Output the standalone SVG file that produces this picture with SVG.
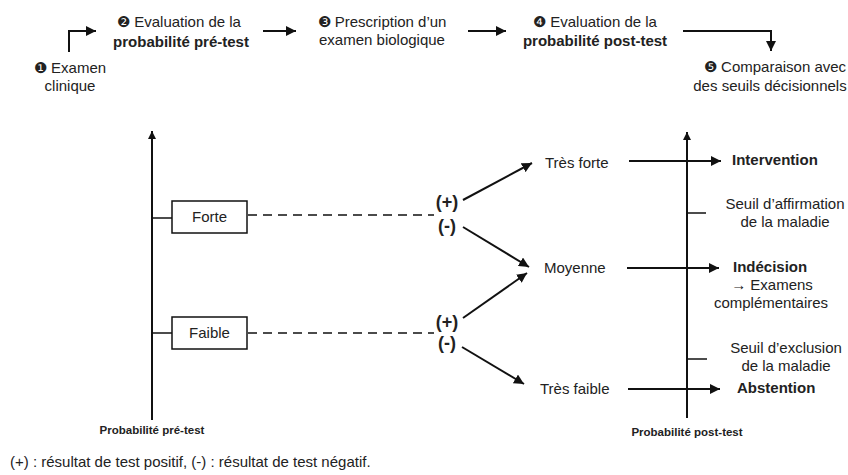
<svg xmlns="http://www.w3.org/2000/svg" width="848" height="475" viewBox="0 0 848 475">
<defs>
<marker id="ah" viewBox="0 0 10 10" refX="10" refY="5" markerWidth="10" markerHeight="10" markerUnits="userSpaceOnUse" orient="auto">
<path d="M0,0 L10,5 L0,10 z" fill="#111"/>
</marker>
<marker id="ahs" viewBox="0 0 10 10" refX="10" refY="5" markerWidth="8" markerHeight="8" markerUnits="userSpaceOnUse" orient="auto">
<path d="M0,0 L10,5 L0,10 z" fill="#111"/>
</marker>
</defs>
<style>
text{font-family:"Liberation Sans",Arial,sans-serif;fill:#222;font-size:15px}
.b{font-weight:bold}
.m{text-anchor:middle}
.s{font-size:11.5px;font-weight:bold}
.pm{font-size:18px;font-weight:bold;text-anchor:middle}
.ln{stroke:#111;stroke-width:2;fill:none}
.th{stroke:#111;stroke-width:1.5;fill:none}
.dash{stroke:#111;stroke-width:1.5;stroke-dasharray:9,6;fill:none}
.box{fill:#fff;stroke:#111;stroke-width:1.5}
</style>
<rect width="848" height="475" fill="#fff"/>

<g id="connectors">
<path class="ln" d="M69,52 V31 H96" marker-end="url(#ah)"/>
<path class="ln" d="M263,31 H296" marker-end="url(#ah)"/>
<path class="ln" d="M468,31 H506" marker-end="url(#ah)"/>
<path class="ln" d="M683,31 H771 V51" marker-end="url(#ah)"/>

<path class="ln" d="M152,420 V131" marker-end="url(#ahs)"/>
<path class="ln" d="M687,418 V132" marker-end="url(#ahs)"/>
<path class="th" d="M152,218 H172"/>
<path class="th" d="M152,333 H172"/>
<path class="dash" d="M248,215 H434"/>
<path class="dash" d="M248,333 H434"/>

<path class="ln" d="M463,200 L532,163" marker-end="url(#ah)"/>
<path class="ln" d="M463,227 L529,267" marker-end="url(#ah)"/>
<path class="ln" d="M463,318 L527,273" marker-end="url(#ah)"/>
<path class="ln" d="M462,347 L524,384" marker-end="url(#ah)"/>

<path class="ln" d="M629,161 H721" marker-end="url(#ah)"/>
<path class="ln" d="M627,268 H719" marker-end="url(#ah)"/>
<path class="ln" d="M628,389 H720" marker-end="url(#ah)"/>
<path class="th" d="M687,213 H706"/>
<path class="th" d="M687,359 H707"/>
</g>

<g id="step1"><text class="m" x="70" y="73">❶ Examen</text><text class="m" x="70" y="91">clinique</text></g>
<g id="step2"><text class="m" x="179" y="27">❷ Evaluation de la</text><text class="m b" x="181" y="47">probabilité pré-test</text></g>
<g id="step3"><text class="m" x="382" y="27">❸ Prescription d’un</text><text class="m" x="382" y="45">examen biologique</text></g>
<g id="step4"><text class="m" x="595" y="27">❹ Evaluation de la</text><text class="m b" x="595" y="46">probabilité post-test</text></g>
<g id="step5"><text class="m" x="775" y="72">❺ Comparaison avec</text><text class="m" x="770" y="91">des seuils décisionnels</text></g>

<g id="axis-pre"><text class="s m" x="152" y="434">Probabilité pré-test</text></g>
<g id="axis-post"><text class="s m" x="687" y="436">Probabilité post-test</text></g>

<g id="forte"><rect class="box" x="172" y="201" width="75" height="32"/><text class="m" x="209.5" y="222">Forte</text></g>
<g id="faible"><rect class="box" x="172" y="317" width="75" height="32"/><text class="m" x="209.5" y="338">Faible</text></g>

<g id="signs1"><text class="pm" x="447" y="208">(+)</text><text class="pm" x="447" y="232">(-)</text></g>
<g id="signs2"><text class="pm" x="447" y="328">(+)</text><text class="pm" x="447" y="349">(-)</text></g>

<g id="tres-forte"><text x="545" y="168">Très forte</text></g>
<g id="moyenne"><text x="544" y="273">Moyenne</text></g>
<g id="tres-faible"><text x="540" y="394">Très faible</text></g>

<g id="intervention"><text class="b" x="732" y="165">Intervention</text></g>
<g id="seuil-aff"><text class="m" x="785" y="209">Seuil d’affirmation</text><text class="m" x="785" y="227">de la maladie</text></g>
<g id="indecision"><text class="b" x="733" y="272">Indécision</text><text class="m" x="772" y="290">→ Examens</text><text class="m" x="771" y="308">complémentaires</text></g>
<g id="seuil-exc"><text class="m" x="786" y="353">Seuil d’exclusion</text><text class="m" x="786" y="371">de la maladie</text></g>
<g id="abstention"><text class="b" x="737" y="393">Abstention</text></g>

<g id="footer"><text x="10" y="467">(+) : résultat de test positif, (-) : résultat de test négatif.</text></g>
</svg>
